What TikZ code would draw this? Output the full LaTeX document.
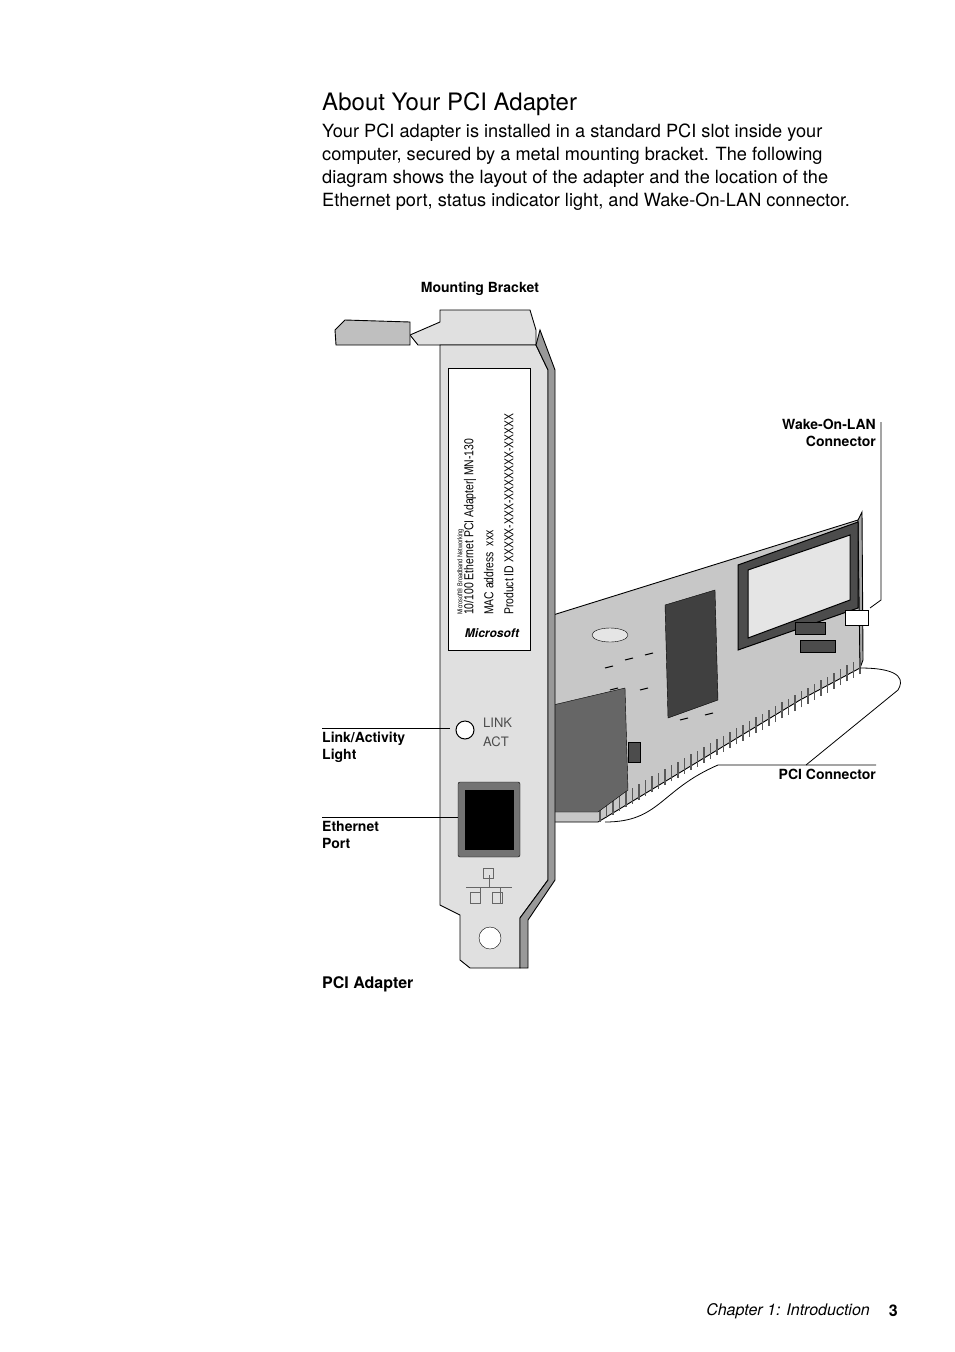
\documentclass[tikz,border=0pt]{standalone}
\usepackage{fontspec}
\setmainfont{TeX Gyre Heros}
\newfontfamily\narrowfont[FakeStretch=0.8]{Liberation Sans}
\tikzset{
  lbl/.style={font=\fontsize{14}{17}\selectfont\bfseries, align=left, inner sep=0pt},
  leader/.style={draw=black, line width=0.8pt},
  metal/.style={draw=black, line width=0.9pt, fill=black!12},
  board/.style={draw=black, line width=0.9pt, fill=black!22},
}
\begin{document}
\begin{tikzpicture}[x=1pt,y=-1pt]
\useasboundingbox[fill=white] (0,0) rectangle (954,1352);
% heading and text
\node[anchor=north west, inner sep=0pt, font=\fontsize{24}{28}\selectfont] (title) at (322,92) {About Your PCI Adapter};
\node[anchor=north west, inner sep=0pt, align=left, font=\fontsize{18.2}{23}\selectfont] (intro) at (322,124)
 {Your PCI adapter is installed in a standard PCI slot inside your\\
  computer, secured by a metal mounting bracket. The following\\
  diagram shows the layout of the adapter and the location of the\\
  Ethernet port, status indicator light, and Wake-On-LAN connector.};
% board
\draw[board] (553,615) -- (858,520) -- (860,668) -- (800,700) -- (598,822) -- (553,822) -- cycle;
\draw[board, fill=black!35] (858,520) -- (862,512) -- (863,660) -- (860,668) -- cycle;
\foreach \i in {0,...,40} \draw[line width=1.2pt, black!65] ({600+\i*6.5},{822-\i*3.7}) -- ++(0,-16);
% wake-on-lan connector
\draw[line width=1pt, fill=black!70] (738,565) -- (858,522) -- (858,608) -- (738,650) -- cycle;
\draw[line width=1pt, fill=black!10] (748,570) -- (850,535) -- (850,600) -- (748,638) -- cycle;
\draw[fill=white] (845,610) rectangle (868,625);
% chip and parts
\draw[fill=black!75] (665,605) -- (715,590) -- (718,700) -- (668,718) -- cycle;
\draw[fill=black!10] (610,635) ellipse (18 and 7);
\draw[fill=black!70] (800,640) rectangle (835,652);
\draw[fill=black!70] (795,622) rectangle (825,634);
\draw[fill=black!70] (628,742) rectangle (640,762);
\foreach \x/\y in {605/668,625/660,645/655,610/690,640/690,680/720,705/715,600/700} \draw[line width=1pt] (\x,\y) -- ++(8,-2);
% rj45 housing on card
\draw[fill=black!60] (553,705) -- (625,688) -- (628,790) -- (598,812) -- (553,812) -- cycle;
% bracket
\draw[metal] (440,310) -- (530,310) -- (536,330) -- (536,345) -- (418,345) -- (410,335) -- (440,322) -- cycle;
\draw[metal, fill=black!25] (335,330) -- (345,320) -- (410,322) -- (410,345) -- (336,345) -- cycle;
\draw[metal] (440,345) -- (536,345) -- (548,370) -- (548,880) -- (520,918) -- (520,968) -- (470,968) -- (460,960) -- (460,915) -- (440,905) -- cycle;
\draw[metal, fill=black!40] (536,345) -- (540,330) -- (555,370) -- (555,880) -- (528,920) -- (528,968) -- (520,968) -- (520,918) -- (548,880) -- (548,370) -- cycle;
% product label
\draw[fill=white] (448,368) rectangle (530,650);
\node[rotate=90, anchor=north west, align=left, inner sep=0pt, font=\narrowfont\fontsize{13}{20}\selectfont] (plabel) at (457,615)
 {{\fontsize{7}{8}\selectfont Microsoft\textregistered{} Broadband Networking}\\[-9pt]
  10/100 Ethernet PCI Adapter| MN-130\\ MAC address~ xxx\\ Product ID XXXXX-XXX-XXXXXXX-XXXXX};
\node[font=\fontsize{12}{12}\selectfont\bfseries\itshape, inner sep=0pt] (mslogo) at (492,633) {Microsoft};
% light, port, hole
\draw[fill=white, line width=1pt] (465,730) circle (9);
\node[anchor=west, align=left, inner sep=0pt, font=\fontsize{13}{19}\selectfont, black!70] (ledtxt) at (483,732) {LINK\\ACT};
\draw[fill=black!55, rounded corners=2pt] (458,782) rectangle (520,857);
\draw[fill=black] (465,790) rectangle (513,849);
\draw[fill=white] (490,938) circle (11);
\draw[black!60] (466,887) -- (512,887) (480,887) -- (480,903) (500,887) -- (500,903) (489,875) -- (489,887);
\draw[black!60] (470,892) rectangle (480,903) (492,892) rectangle (502,903) (483,868) rectangle (493,878);
% labels
\node[lbl, anchor=south] (lbracket) at (480,296) {Mounting Bracket};
\node[lbl, anchor=north east, align=right] (lwol) at (876,419) {Wake-On-LAN\\Connector};
\node[lbl, anchor=north west] (llink) at (322,732) {Link/Activity\\Light};
\node[lbl, anchor=north west] (leth) at (322,821) {Ethernet\\Port};
\node[lbl, anchor=south east] (lpci) at (876,780) {PCI Connector};
\node[lbl, anchor=north west, font=\fontsize{16}{19}\selectfont\bfseries] (lcap) at (322,976) {PCI Adapter};
\coordinate (wolend) at (870,608);
\coordinate (linkend) at (450,728);
\coordinate (ethend) at (458,817);
\draw[leader] (881,422) -- (881,600) -- (wolend);
\draw[leader] (322,728) -- (linkend);
\draw[leader] (322,817) -- (ethend);
\draw[leader] (876,765) -- (718,765) .. controls (660,790) and (660,822) .. (605,822);
\draw[leader] (860,668) .. controls (905,668) and (903,682) .. (898,690) -- (806,765);
% footer
\node[anchor=east, inner sep=0pt, font=\fontsize{16}{19}\selectfont\itshape] (foot) at (870,1311) {Chapter 1: Introduction};
\node[anchor=east, inner sep=0pt, font=\fontsize{16}{19}\selectfont\bfseries] (pnum) at (898,1311) {3};
\end{tikzpicture}
\end{document}
